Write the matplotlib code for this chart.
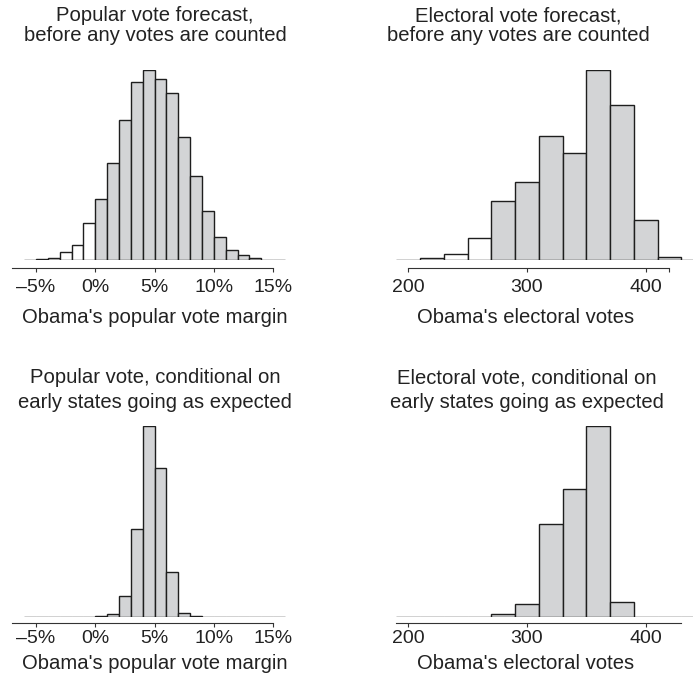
import matplotlib
matplotlib.use("Agg")
import matplotlib.pyplot as plt
import numpy as np

plt.rcParams["font.family"] = ["Liberation Sans", "DejaVu Sans"]

W, H = 693, 684
TEXT = "#222222"
FILL = "#d3d4d6"
EDGE = "#1e1e1e"

# popular vote margin, 1-point bins starting at -6%
pop_edges = np.arange(-6, 17, 1)
pop_before = [0.5, 2, 6, 23, 45, 112, 182, 290, 419, 533, 570, 542,
              500, 369, 252, 148, 68, 29, 16, 5, 1, 1]
pop_after = [0, 0, 0, 0, 0, 0, 2, 8, 62, 262, 572, 447,
             133, 10, 3, 0, 0, 0, 0, 0, 0, 0]
pop_ticks = [-5, 0, 5, 10, 15]
pop_labels = ["\u20135%", "0%", "5%", "10%", "15%"]

# electoral votes, 20-vote bins starting at 190
ev_edges = np.arange(190, 451, 20)
ev_before = [1, 5, 18, 67, 176, 235, 371, 322, 570, 464, 121, 8, 1]
ev_after = [0, 0, 0, 0, 8, 37, 278, 382, 572, 43, 0, 0, 0]
ev_ticks = [200, 300, 400, 420]
ev_labels = ["200", "300", "400", ""]

titles = [
    ("Popular vote forecast,", "before any votes are counted"),
    ("Electoral vote forecast,", "before any votes are counted"),
    ("Popular vote, conditional on", "early states going as expected"),
    ("Electoral vote, conditional on", "early states going as expected"),
]
xlabels = ["Obama's popular vote margin", "Obama's electoral votes"]

FS = 14.6
TICK_FS = 14.0


def px_axes(fig, left, top, width, height):
    return fig.add_axes([left / W, 1 - (top + height) / H, width / W, height / H])


def hist_panel(ax, edges, heights, cutoff, xlim, bounds, ticks, labels, pad, offset):
    left = edges[:-1]
    widths = np.diff(edges)
    colors = ["white" if x < cutoff else FILL for x in left]
    ax.bar(left, heights, width=widths, align="edge", color=colors,
           edgecolor=EDGE, linewidth=1.0)
    ax.set_xlim(*xlim)
    ax.set_ylim(0, max(heights))
    for s in ["top", "left", "right"]:
        ax.spines[s].set_visible(False)
    ax.spines["bottom"].set_position(("outward", offset))
    ax.spines["bottom"].set_bounds(*bounds)
    ax.spines["bottom"].set_linewidth(0.8)
    ax.spines["bottom"].set_color("#333333")
    ax.set_yticks([])
    ax.set_xticks(ticks)
    ax.set_xticklabels(labels)
    ax.tick_params(axis="x", length=2.8, width=0.8, color="#333333",
                   pad=pad, labelsize=TICK_FS, labelcolor=TEXT)


def text_lines(fig, xc, baselines, lines):
    for yb, line in zip(baselines, lines):
        fig.text(xc / W, 1 - yb / H, line, ha="center", va="baseline",
                 fontsize=FS, color=TEXT)


fig = plt.figure(figsize=(W / 100, H / 100), dpi=100)

# pixel mapping: -5% at x=36, 11.86 px per point; 200 EV at x=408.3, 1.187 px per vote
pop_xlim = (-7.5, 16.5)
pop_left = 36 - 2.5 * 11.86
pop_w = 24 * 11.86
ev_xlim = (176, 440)
ev_left = 408.3 - 24 * 1.187
ev_w = 264 * 1.187

ax = px_axes(fig, pop_left, 70, pop_w, 190)
hist_panel(ax, pop_edges, pop_before, 0, pop_xlim, (-7, 15), pop_ticks, pop_labels, 5.2, 5.8)
ax = px_axes(fig, ev_left, 70, ev_w, 190)
hist_panel(ax, ev_edges, ev_before, 270, ev_xlim, (200, 420), ev_ticks, ev_labels, 5.2, 5.8)
ax = px_axes(fig, pop_left, 426, pop_w, 190.7)
hist_panel(ax, pop_edges, pop_after, 0, pop_xlim, (-7, 15), pop_ticks, pop_labels, 2.2, 4.8)
ax = px_axes(fig, ev_left, 426, ev_w, 190.7)
hist_panel(ax, ev_edges, ev_after, 270, ev_xlim, (190, 430), ev_ticks[:3], ev_labels[:3], 2.2, 4.8)

text_lines(fig, 155, [21, 41], titles[0])
text_lines(fig, 518, [21, 41], titles[1])
text_lines(fig, 155, [383, 408], titles[2])
text_lines(fig, 526.7, [383, 408], titles[3])

text_lines(fig, 155, [323], [xlabels[0]])
text_lines(fig, 525.5, [323], [xlabels[1]])
text_lines(fig, 155, [669], [xlabels[0]])
text_lines(fig, 525.5, [669], [xlabels[1]])

fig.savefig("out.png", dpi=100)
